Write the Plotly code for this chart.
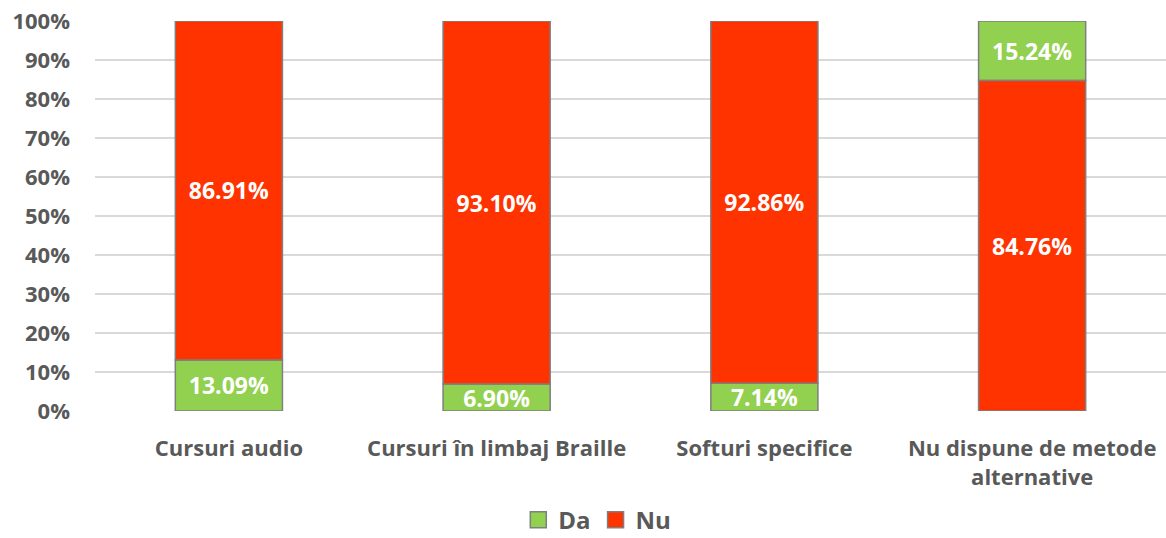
import plotly.graph_objects as go

categories = ["Cursuri audio", "Cursuri în limbaj Braille", "Softuri specifice",
              "Nu dispune de metode<br>alternative"]
da_values = [13.09, 6.90, 7.14, 15.24]
nu_values = [86.91, 93.10, 92.86, 84.76]
da_on_top = [False, False, False, True]
y_ticks = [0, 10, 20, 30, 40, 50, 60, 70, 80, 90, 100]
series_names = ["Da", "Nu"]
series_colors = ["#92D050", "#FF3300"]

da_base = [n if top else 0 for n, top in zip(nu_values, da_on_top)]
nu_base = [0 if top else d for d, top in zip(da_values, da_on_top)]

FONT = "Open Sans"
GREY = "#595959"
OUTLINE = "#7f7f7f"
line = dict(color=OUTLINE, width=1.5)
label_font = dict(family=FONT, size=23, color="white", weight="bold")

fig = go.Figure()
for name, vals, base, color in [("Da", da_values, da_base, series_colors[0]),
                                ("Nu", nu_values, nu_base, series_colors[1])]:
    fig.add_trace(go.Bar(
        name=name, x=categories, y=vals, base=base,
        marker=dict(color=color, line=line),
        text=[f"{v:.2f}%" for v in vals], textposition="inside",
        insidetextanchor="middle", constraintext="none", cliponaxis=False,
        textfont=label_font, hoverinfo="skip", showlegend=False,
    ))

# legend entries with larger square swatches
for name, color in zip(series_names, series_colors):
    fig.add_trace(go.Scatter(
        name=name, x=[None], y=[None], mode="markers",
        marker=dict(symbol="square", size=17, color=color,
                    line=dict(color=OUTLINE, width=1.5)),
        showlegend=True, hoverinfo="skip",
    ))

fig.update_layout(
    width=1166, height=538,
    margin=dict(l=95, r=0, t=21, b=127, autoexpand=False),
    barmode="overlay", bargap=0.6,
    plot_bgcolor="white", paper_bgcolor="white",
    font=dict(family=FONT, color=GREY, size=21, weight="bold"),
    showlegend=True,
    legend=dict(orientation="h", xref="paper", yref="paper",
                x=0.469, xanchor="center", y=-0.28, yanchor="middle",
                font=dict(size=24, color=GREY, family=FONT, weight="bold"),
                itemsizing="trace", itemwidth=30, traceorder="normal",
                tracegroupgap=0),
)
fig.update_yaxes(range=[0, 100], tickvals=y_ticks,
                 ticktext=[f"{v}%" for v in y_ticks],
                 showgrid=True, gridcolor="#d9d9d9", gridwidth=1.5,
                 zeroline=False, showline=False, ticks="",
                 tickfont=dict(size=22, color=GREY, family=FONT, weight="bold"),
                 ticklabelstandoff=24, automargin=False)
fig.update_xaxes(showline=False, ticks="",
                 tickfont=dict(size=22, color=GREY, family=FONT, weight="bold"),
                 ticklabelstandoff=22, automargin=False)

fig.write_html("out.html", post_script="document.body.style.margin='0';",
               config={"displayModeBar": False})
